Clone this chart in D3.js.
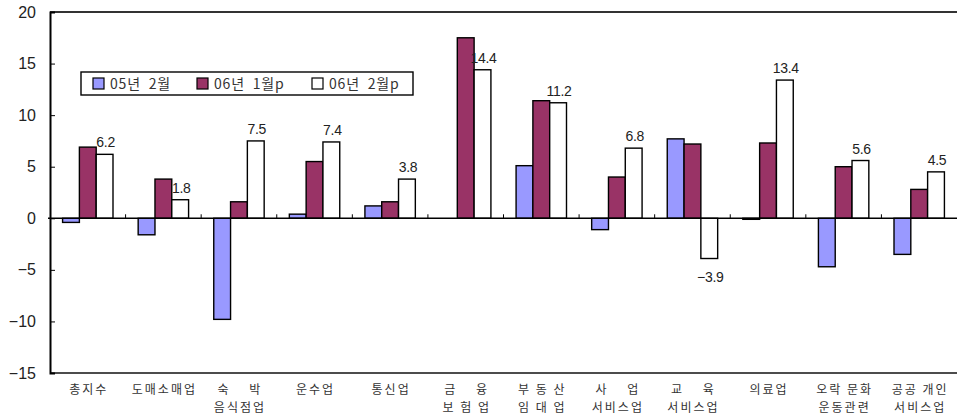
<!DOCTYPE html>
<html>
<head>
<meta charset="utf-8">
<script src="https://cdn.jsdelivr.net/npm/d3@7"></script>
<style>
  body { margin: 0; background: #fff; }
  svg { display: block; }
  .num { font-family: "Liberation Sans", Arial, sans-serif; fill: #222; }
  .kor { font-family: "Noto Sans CJK KR", sans-serif; fill: #333; }
</style>
</head>
<body>
<svg width="957" height="416"></svg>
<script>
// categories (two label lines each)
var categories = ["총지수", "도매소매업", "숙박음식점업", "운수업", "통신업", "금융보험업",
  "부동산임대업", "사업서비스업", "교육서비스업", "의료업", "오락문화운동관련", "공공개인서비스업"];
var labelLine1 = ["총지수", "도매소매업", "숙    박", "운수업", "통신업", "금    융",
  "부 동 산", "사    업", "교    육", "의료업", "오락 문화", "공공 개인"];
var labelLine2 = ["", "", "음식점업", "", "", "보 험 업",
  "임 대 업", "서비스업", "서비스업", "", "운동관련", "서비스업"];

var seriesNames = ["05년  2월", "06년  1월p", "06년  2월p"];
var s0502 = [-0.4, -1.6, -9.8, 0.4, 1.2, 0, 5.1, -1.1, 7.7, -0.1, -4.7, -3.5];
var s0601 = [6.9, 3.8, 1.6, 5.5, 1.6, 17.5, 11.4, 4.0, 7.2, 7.3, 5.0, 2.8];
var s0602 = [6.2, 1.8, 7.5, 7.4, 3.8, 14.4, 11.2, 6.8, -3.9, 13.4, 5.6, 4.5];
var yTicks = [20, 15, 10, 5, 0, -5, -10, -15];

var colors = ["#9999ff", "#993366", "#ffffff"];
var series = [s0502, s0601, s0602];

var svg = d3.select("svg"),
  margin = {top: 12, right: 0, bottom: 43, left: 50},
  width = 957 - margin.left - margin.right,
  height = 416 - margin.top - margin.bottom,
  g = svg.append("g").attr("transform", "translate(" + margin.left + "," + margin.top + ")");

var x = d3.scaleBand()
  .domain(categories)
  .range([0, width])
  .paddingInner(0.333)
  .paddingOuter(0.1665);

var xs = d3.scaleBand()
  .domain([0, 1, 2])
  .range([0, x.bandwidth()]);

var y = d3.scaleLinear()
  .domain([-15, 20])
  .range([height, 0]);

var step = x.step();

// plot frame
g.append("line").attr("x1", 0).attr("x2", width).attr("y1", 0).attr("y2", 0)
  .attr("stroke", "#333").attr("stroke-width", 2);
g.append("line").attr("x1", 0).attr("x2", width).attr("y1", height).attr("y2", height)
  .attr("stroke", "#111").attr("stroke-width", 1.5);

// bars
categories.forEach(function(c, i) {
  series.forEach(function(s, k) {
    var v = s[i];
    if (v === 0) return;
    g.append("rect")
      .attr("x", x(c) + xs(k))
      .attr("y", y(Math.max(0, v)))
      .attr("width", xs.bandwidth())
      .attr("height", Math.abs(y(v) - y(0)))
      .attr("fill", colors[k])
      .attr("stroke", "#000")
      .attr("stroke-width", 1.4);
  });
});

// zero axis with category tick marks
g.append("line").attr("x1", -2).attr("x2", width).attr("y1", y(0)).attr("y2", y(0))
  .attr("stroke", "#000").attr("stroke-width", 1.5);
g.selectAll(".ctick")
  .data(d3.range(1, categories.length))
  .enter().append("line")
  .attr("x1", function(d) { return d * step; })
  .attr("x2", function(d) { return d * step; })
  .attr("y1", y(0))
  .attr("y2", y(0) - 4)
  .attr("stroke", "#000");

// y axis
var yAxis = g.append("g")
  .call(d3.axisLeft(y).tickValues(yTicks).tickSize(-5).tickPadding(14)
    .tickFormat(function(d) { return d < 0 ? "\u2212" + Math.abs(d) : d; }));
yAxis.select(".domain").attr("stroke", "#000").attr("stroke-width", 2);
yAxis.selectAll(".tick line").attr("stroke", "#000");
yAxis.selectAll("text")
  .attr("class", "num")
  .attr("font-size", 16)
  .attr("fill", "#222");

// value labels on the last series
g.selectAll(".vlabel")
  .data(s0602)
  .enter().append("text")
  .attr("class", "num")
  .attr("font-size", 14)
  .attr("letter-spacing", -0.3)
  .attr("text-anchor", "middle")
  .attr("x", function(d, i) { return x(categories[i]) + xs(2) + xs.bandwidth() / 2 + 1; })
  .attr("y", function(d) { return d >= 0 ? y(d) - 7 : y(d) + 23; })
  .text(function(d) { return d < 0 ? "\u2212" + Math.abs(d).toFixed(1) : d.toFixed(1); });

// category labels
var cl = g.append("g").attr("transform", "translate(0," + height + ")");
categories.forEach(function(c, i) {
  var cx = x(c) + x.bandwidth() / 2;
  cl.append("text").attr("class", "kor").attr("font-size", 12)
    .attr("letter-spacing", 2)
    .attr("text-anchor", "middle").attr("x", cx + 1).attr("y", 21)
    .attr("xml:space", "preserve").style("white-space", "pre")
    .text(labelLine1[i]);
  if (labelLine2[i]) {
    cl.append("text").attr("class", "kor").attr("font-size", 12)
      .attr("letter-spacing", 2)
      .attr("text-anchor", "middle").attr("x", cx + 1).attr("y", 39)
      .attr("xml:space", "preserve").style("white-space", "pre")
      .text(labelLine2[i]);
  }
});

// legend
var legend = svg.append("g").attr("transform", "translate(81,72)");
legend.append("rect").attr("width", 332).attr("height", 23)
  .attr("fill", "#fff").attr("stroke", "#000").attr("stroke-width", 1.4);
var legendX = [12, 116, 231];
seriesNames.forEach(function(name, k) {
  var item = legend.append("g").attr("transform", "translate(" + legendX[k] + ",0)");
  item.append("rect").attr("x", 0).attr("y", 6).attr("width", 11).attr("height", 11)
    .attr("fill", colors[k]).attr("stroke", "#000").attr("stroke-width", 1.2);
  item.append("text").attr("class", "kor").attr("font-size", 14)
    .attr("letter-spacing", 0.8)
    .attr("xml:space", "preserve").style("white-space", "pre")
    .attr("x", 17).attr("y", 17).text(name);
});
</script>
</body>
</html>
